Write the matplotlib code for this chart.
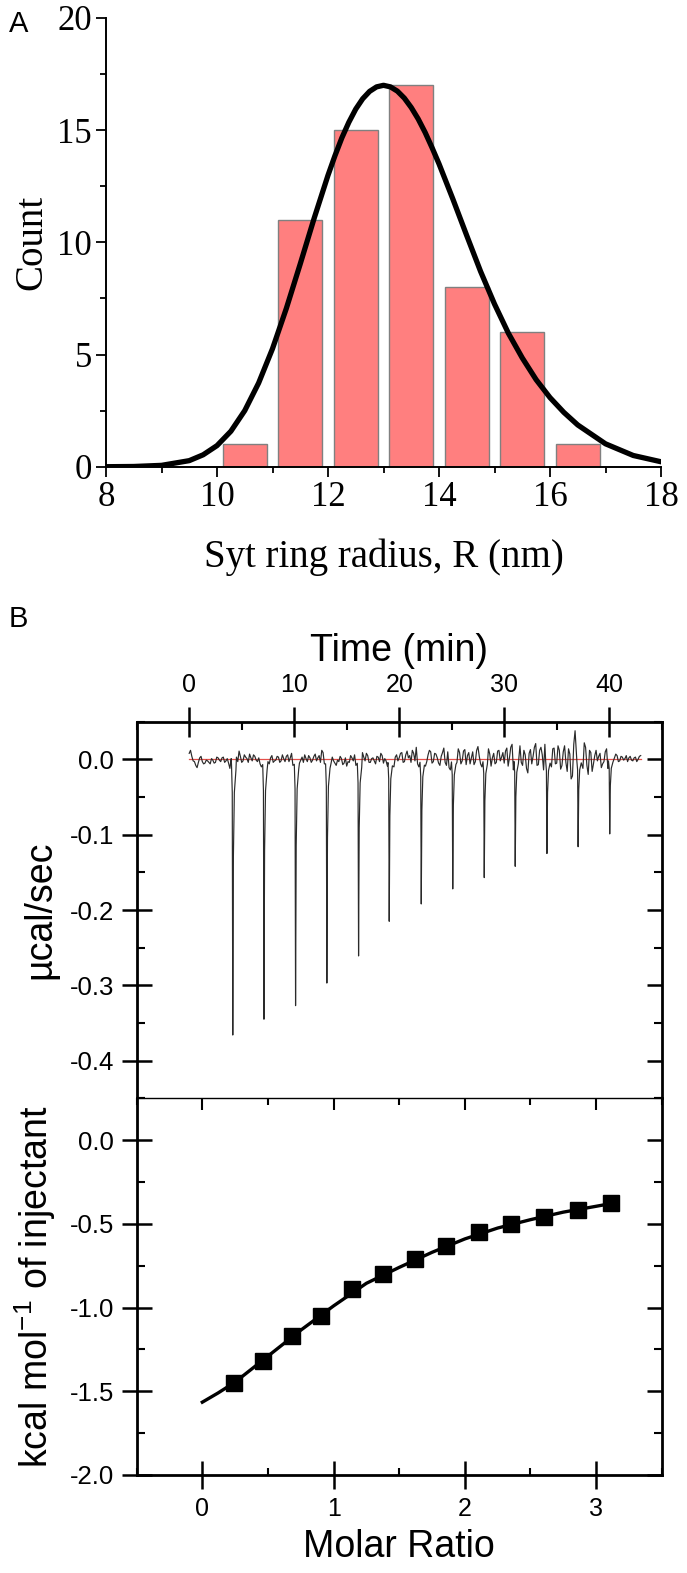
import matplotlib
matplotlib.use("Agg")
import matplotlib.pyplot as plt
import numpy as np
from matplotlib.ticker import MultipleLocator, FormatStrFormatter

plt.rcParams['font.family'] = 'Liberation Sans'
plt.rcParams['axes.unicode_minus'] = False
plt.rcParams['mathtext.fontset'] = 'custom'
plt.rcParams['mathtext.rm'] = 'Liberation Sans'
plt.rcParams['mathtext.it'] = 'Liberation Sans:italic'
plt.rcParams['mathtext.bf'] = 'Liberation Sans:bold'

# ---- panel A: ring radius histogram + fit
radius_centers = [10.5, 11.5, 12.5, 13.5, 14.5, 15.5, 16.5]
counts = [1, 11, 15, 17, 8, 6, 1]

fit_r = [8.0, 8.5, 9.0, 9.5, 9.75, 10.0, 10.25, 10.5, 10.75, 11.0, 11.25, 11.5, 11.75,
         12.0, 12.125, 12.25, 12.375, 12.5, 12.625, 12.75, 12.875, 13.0, 13.125, 13.25,
         13.375, 13.5, 13.625, 13.75, 13.875, 14.0, 14.25, 14.5, 14.75, 15.0, 15.25,
         15.5, 15.75, 16.0, 16.25, 16.5, 17.0, 17.5, 18.0]
fit_count = [0.0, 0.01, 0.06, 0.27, 0.53, 0.94, 1.58, 2.50, 3.73, 5.26, 7.06, 9.04, 11.07,
             12.99, 13.86, 14.66, 15.35, 15.94, 16.40, 16.73, 16.93, 17.0, 16.93, 16.74,
             16.43, 16.01, 15.50, 14.90, 14.22, 13.50, 11.93, 10.30, 8.70, 7.25, 5.95,
             4.85, 3.88, 3.08, 2.42, 1.86, 1.02, 0.50, 0.22]

# ---- panel B top: raw ITC thermogram
inj_time = [4.15, 7.12, 10.13, 13.11, 16.13, 19.05, 22.1, 25.1, 28.1, 31.05, 34.07, 37.04, 40.05]
inj_depth = [-0.366, -0.345, -0.327, -0.297, -0.261, -0.215, -0.192, -0.172, -0.157,
             -0.142, -0.125, -0.116, -0.099]
# baseline noise at 0, 0.25, ..., 43 min
baseline_a = [
    0.008, 0.004, -0.003, -0.011, 0.002, -0.003, -0.005, -0.002, -0.006, -0.001, -0.004, 0.002,
    -0.003, 0.003, -0.002, -0.005, 0.001, -0.004, 0.003, 0.011, -0.004, 0.006, 0.001, 0.007,
    -0.002, 0.004, -0.003, -0.006, -0.002, -0.008, -0.003, 0.002, -0.004, -0.001, 0.003, -0.002,
    0.001, 0.004, -0.003, 0.008, -0.006, -0.002, -0.005, 0.003, 0.006, -0.003, 0.002, -0.001,
    0.007, 0.002, -0.004, 0.009, -0.003, 0.004, -0.006, -0.002, -0.008, -0.003, 0.001, -0.005,
    -0.009, -0.004, 0.002, 0.006, -0.003, 0.004, 0.009, -0.002, 0.005, -0.004, 0.002, -0.006,
    0.003, 0.008, -0.005, -0.002, -0.007, 0.004, -0.010, 0.006, 0.002, 0.009, -0.003, 0.011,
    0.005, 0.012, -0.002, -0.006, 0.014, -0.004, -0.009, 0.006, 0.010, -0.003, 0.007, -0.005,
    0.004, 0.015, -0.008, -0.011, 0.006, 0.012, -0.004, 0.009, -0.002, 0.013, 0.005, -0.006,
    0.010, -0.003, 0.017, -0.006, 0.011, 0.004, 0.014, -0.009, 0.008, -0.004, 0.012, 0.003,
    -0.005, 0.015, 0.002, 0.020, -0.012, 0.010, 0.018, -0.008, 0.006, -0.018, 0.013, 0.004,
    0.021, -0.007, 0.016, -0.014, 0.011, 0.019, -0.010, 0.015, -0.005, 0.012, -0.008, 0.018,
    -0.016, 0.007, -0.022, 0.038, 0.011, 0.027, -0.012, 0.016, -0.020, 0.009, -0.006, 0.012,
    0.004, -0.011, -0.003, 0.014, -0.007, 0.006, 0.002, 0.005, -0.002, 0.003, 0.001, -0.003,
    0.004, -0.002, 0.003, 0.000, 0.005,
]
# baseline noise at 0.125, 0.375, ..., 42.875 min
baseline_b = [
    0.012, -0.002, -0.008, -0.004, 0.004, -0.006, -0.001, -0.004, 0.001, -0.005, 0.003, -0.001,
    0.002, -0.004, 0.001, -0.012, -0.006, 0.005, -0.003, 0.004, -0.002, 0.003, -0.004, 0.002,
    0.006, -0.001, 0.002, -0.010, 0.003, -0.004, -0.006, 0.005, -0.002, 0.004, -0.004, 0.006,
    -0.003, 0.006, 0.002, -0.008, 0.003, 0.007, -0.001, -0.004, 0.001, 0.005, -0.004, 0.004,
    -0.002, 0.005, 0.012, -0.006, 0.002, -0.002, 0.003, -0.005, -0.001, 0.004, -0.007, 0.002,
    -0.003, 0.005, -0.002, -0.008, 0.006, -0.003, 0.003, 0.008, -0.004, 0.001, -0.002, 0.004,
    -0.003, 0.005, 0.001, -0.009, 0.002, -0.004, 0.003, -0.002, 0.008, -0.004, 0.006, 0.002,
    -0.004, 0.008, 0.016, -0.010, 0.004, 0.011, -0.003, 0.012, -0.005, 0.008, 0.002, -0.008,
    0.009, -0.004, 0.010, -0.014, -0.002, 0.008, 0.014, -0.006, 0.011, -0.007, 0.009, 0.002,
    -0.007, 0.012, 0.004, -0.010, 0.016, -0.005, 0.007, 0.002, -0.006, 0.011, -0.002, 0.009,
    0.011, -0.009, 0.016, -0.014, 0.004, 0.022, -0.004, 0.012, -0.012, 0.008, -0.006, 0.016,
    -0.008, 0.012, 0.006, 0.020, -0.016, 0.009, 0.014, -0.006, 0.018, -0.013, 0.010, -0.004,
    0.014, -0.026, 0.020, 0.008, 0.031, -0.004, 0.022, -0.008, 0.012, -0.016, 0.005, -0.002,
    0.008, -0.006, 0.010, -0.012, 0.003, -0.002, 0.007, -0.003, 0.004, -0.001, 0.005, 0.002,
    -0.001, 0.002, -0.003, 0.004,
]
# spike profile around each injection (time offset, fraction of depth)
spike_dt = [-0.12, -0.05, 0.0, 0.06, 0.15, 0.3]
spike_frac = [0.02, 0.12, 1.0, 0.35, 0.12, 0.04]

# ---- panel B bottom: integrated heats
molar_ratio = [0.24, 0.46, 0.683, 0.906, 1.144, 1.379, 1.62, 1.86, 2.105, 2.354, 2.607, 2.86, 3.113]
heat = [-1.451, -1.317, -1.168, -1.048, -0.892, -0.798, -0.707, -0.633, -0.549, -0.503,
        -0.457, -0.417, -0.373]
fit_mr = [0.0, 0.12, 0.25, 0.5, 0.75, 1.0, 1.25, 1.5, 1.75, 2.0, 2.25, 2.5, 2.75, 3.0, 3.12]
fit_heat = [-1.565, -1.51, -1.445, -1.29, -1.135, -0.99, -0.855, -0.76, -0.67, -0.59,
            -0.525, -0.475, -0.43, -0.395, -0.378]

fig = plt.figure(figsize=(6.87, 15.73), dpi=100)
W, H = 687.0, 1573.0

# ================= panel A =================
serif = 'Liberation Serif'
axA = fig.add_axes([106 / W, 1 - 466.7 / H, (661 - 106) / W, (466.7 - 18) / H])
axA.bar(radius_centers, counts, width=0.8, color='#ff7f7f', edgecolor='#808080',
        linewidth=1.0, zorder=2)
axA.plot(fit_r, fit_count, color='black', lw=3.8, zorder=3, solid_joinstyle='round')
axA.set_xlim(8, 18)
axA.set_ylim(0, 20)
axA.spines['top'].set_visible(False)
axA.spines['right'].set_visible(False)
for s in ['left', 'bottom']:
    axA.spines[s].set_linewidth(1.4)
axA.xaxis.set_major_locator(MultipleLocator(2))
axA.xaxis.set_minor_locator(MultipleLocator(1))
axA.yaxis.set_major_locator(MultipleLocator(5))
axA.yaxis.set_minor_locator(MultipleLocator(2.5))
axA.tick_params(which='major', direction='out', length=7.2, width=1.3, labelsize=25,
                labelfontfamily=serif, pad=3)
axA.tick_params(which='minor', direction='out', length=4.5, width=1.3)
axA.set_xlabel('Syt ring radius, R (nm)', fontsize=28, family=serif)
axA.xaxis.set_label_coords(0.5, -0.161)
axA.xaxis.label.set_va('top')
axA.set_ylabel('Count', fontsize=28, family=serif)
axA.yaxis.set_label_coords(-0.101, 0.5)
fig.text(9 / W, 1 - 32 / H, 'A', fontsize=21, va='baseline', ha='left')

# ================= panel B (top) =================
x0, x1 = 136.7 / W, 661.7 / W
axU = fig.add_axes([x0, 1 - 1098.3 / H, x1 - x0, (1098.3 - 721.7) / H])

t_a = np.linspace(0, 43, len(baseline_a))
t_b = np.linspace(0.125, 42.875, len(baseline_b))
t_grid = np.concatenate([t_a, t_b])
y_grid = np.concatenate([baseline_a, baseline_b])
keep = np.ones(len(t_grid), bool)
for ti in inj_time:
    keep &= ~((t_grid > ti - 0.15) & (t_grid < ti + 0.35))
t_all = list(t_grid[keep])
y_all = list(y_grid[keep])
for ti, d in zip(inj_time, inj_depth):
    for dt, f in zip(spike_dt, spike_frac):
        t_all.append(ti + dt)
        y_all.append(d * f)
order = np.argsort(t_all)
t_all = np.array(t_all)[order]
y_all = np.array(y_all)[order]

axU.plot([0, 43], [0, 0], color='#e5504a', lw=0.9, zorder=2)
axU.plot(t_all, y_all, color='#2a2a2a', lw=0.85, zorder=3)
axU.set_xlim(-5, 45)
axU.set_ylim(-0.45, 0.05)
axU.spines['bottom'].set_visible(False)
for s in ['left', 'right', 'top']:
    axU.spines[s].set_linewidth(2.0)
axU.xaxis.tick_top()
axU.xaxis.set_label_position('top')
axU.xaxis.set_major_locator(MultipleLocator(10))
axU.xaxis.set_minor_locator(MultipleLocator(5))
axU.yaxis.set_major_locator(MultipleLocator(0.1))
axU.yaxis.set_minor_locator(MultipleLocator(0.05))
axU.yaxis.set_major_formatter(FormatStrFormatter('%.1f'))
axU.tick_params(axis='x', which='major', direction='inout', length=21.6, width=1.8,
                top=True, bottom=False, labeltop=True, labelbottom=False, labelsize=18, pad=7)
axU.tick_params(axis='x', which='minor', direction='in', length=5.5, width=1.5,
                top=True, bottom=False)
axU.tick_params(axis='y', which='major', direction='inout', length=21.6, width=1.8,
                left=True, right=False, labelsize=18.5, pad=5.5)
axU.tick_params(axis='y', which='minor', direction='in', length=5.8, width=1.5,
                left=True, right=False)
axU.set_xlabel('Time (min)', fontsize=27, labelpad=8.5)
axU.set_ylabel('\u00b5cal/sec', fontsize=27)
axU.yaxis.set_label_coords(-0.15, 0.5)

axUR = axU.twinx()
axUR.set_ylim(-0.45, 0.05)
for s in axUR.spines.values():
    s.set_visible(False)
axUR.yaxis.set_major_locator(MultipleLocator(0.1))
axUR.yaxis.set_minor_locator(MultipleLocator(0.05))
axUR.tick_params(axis='y', which='major', direction='in', length=10.8, width=1.8,
                 labelright=False)
axUR.tick_params(axis='y', which='minor', direction='in', length=5.8, width=1.5)

fig.text(9 / W, 1 - 627 / H, 'B', fontsize=21, va='baseline', ha='left')

# ================= panel B (bottom) =================
axL = fig.add_axes([x0, 1 - 1475 / H, x1 - x0, (1475 - 1098.3) / H])
axL.plot(fit_mr, fit_heat, color='black', lw=2.4, zorder=2)
axL.plot(molar_ratio, heat, 's', color='black', ms=12, zorder=3)
axL.set_xlim(-0.5, 3.5)
axL.set_ylim(-2.0, 0.25)
for s in ['left', 'right', 'bottom']:
    axL.spines[s].set_linewidth(2.0)
axL.spines['top'].set_linewidth(1.0)
axL.xaxis.set_major_locator(MultipleLocator(1))
axL.xaxis.set_minor_locator(MultipleLocator(0.5))
axL.yaxis.set_major_locator(MultipleLocator(0.5))
axL.yaxis.set_minor_locator(MultipleLocator(0.25))
axL.yaxis.set_major_formatter(FormatStrFormatter('%.1f'))
axL.tick_params(axis='x', which='major', direction='inout', length=20, width=1.8,
                top=False, labelsize=18, pad=5.8)
axL.tick_params(axis='x', which='minor', direction='in', length=5, width=1.5, top=False)
axL.tick_params(axis='y', which='major', direction='inout', length=21.6, width=1.8,
                right=False, labelsize=18.5, pad=5.5)
axL.tick_params(axis='y', which='minor', direction='in', length=5.8, width=1.5, right=False)
axL.set_xlabel('Molar Ratio', fontsize=27, labelpad=6)
axL.set_ylabel('kcal mol$^{\\mathrm{-1}}$ of injectant', fontsize=27)
axL.yaxis.set_label_coords(-0.15, 0.5)

axLR = axL.twinx()
axLR.set_ylim(-2.0, 0.25)
for s in axLR.spines.values():
    s.set_visible(False)
axLR.yaxis.set_major_locator(MultipleLocator(0.5))
axLR.yaxis.set_minor_locator(MultipleLocator(0.25))
axLR.tick_params(axis='y', which='major', direction='in', length=10.8, width=1.8,
                 labelright=False)
axLR.tick_params(axis='y', which='minor', direction='in', length=5.8, width=1.5)

axLT = axL.twiny()
axLT.set_xlim(-0.5, 3.5)
for s in axLT.spines.values():
    s.set_visible(False)
axLT.xaxis.set_major_locator(MultipleLocator(1))
axLT.xaxis.set_minor_locator(MultipleLocator(0.5))
axLT.tick_params(axis='x', which='major', direction='in', length=8.6, width=1.5,
                 labeltop=False)
axLT.tick_params(axis='x', which='minor', direction='in', length=4.8, width=1.5)

fig.savefig('out.png', dpi=100)
